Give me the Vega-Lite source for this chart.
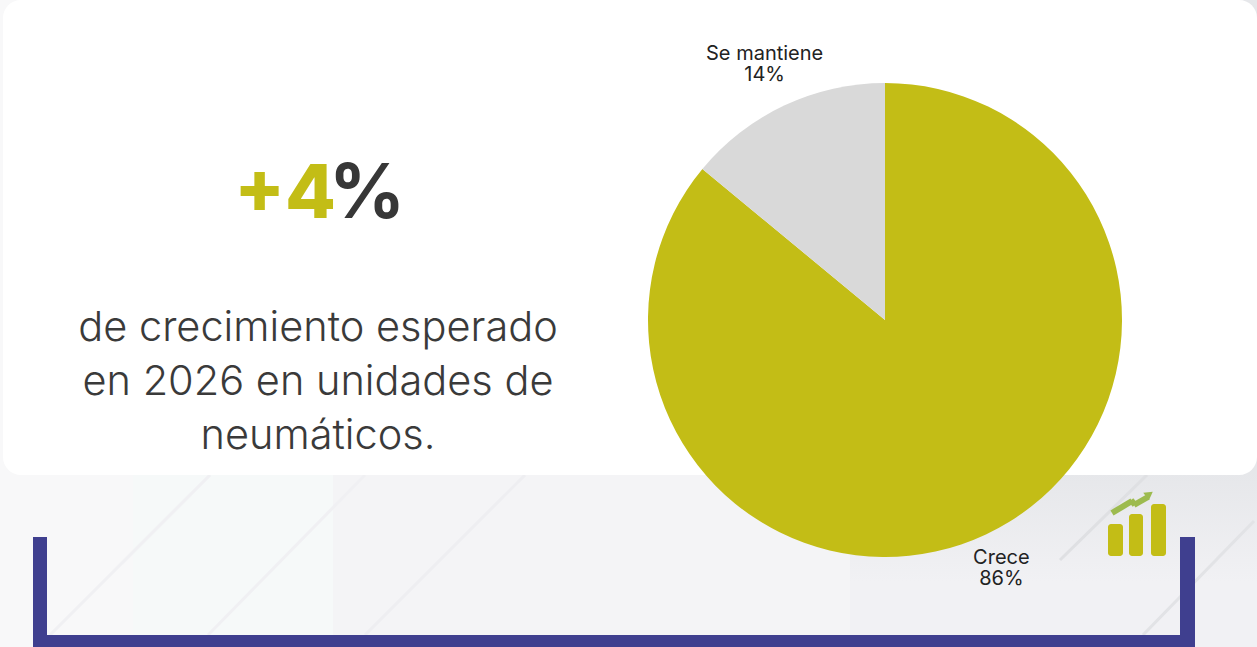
{"$schema":"https://vega.github.io/schema/vega-lite/v6.json","width":1257,"height":647,"autosize":{"type":"fit","contains":"padding"},"padding":0,"background":"#f4f4f6","config":{"view":{"stroke":null},"axis":{"disable":true},"legend":{"disable":true}},"datasets":{"one":[{"k":1}],"shares":[{"grupo":"Crece","valor":86,"etiqueta":"Crece\n86%","orden":1},{"grupo":"Se mantiene","valor":14,"etiqueta":"Se mantiene\n14%","orden":2}]},"data":{"name":"one"},"layer":[
{"mark":{"type":"rect","color":"#f8f8f9"},"encoding":{"x":{"datum":0,"scale":{"domain":[0,1257]}},"x2":{"datum":133},"y":{"datum":0,"scale":{"domain":[647,0]}},"y2":{"datum":647}}},
{"mark":{"type":"rect","color":"#f6f9f9"},"encoding":{"x":{"datum":133,"scale":{"domain":[0,1257]}},"x2":{"datum":333},"y":{"datum":0,"scale":{"domain":[647,0]}},"y2":{"datum":647}}},
{"mark":{"type":"rect","color":{"x1":0,"y1":0.73,"x2":0,"y2":0.9,"gradient":"linear","stops":[{"offset":0,"color":"#e6e7ea"},{"offset":1,"color":"#f1f1f4"}]}},"encoding":{"x":{"datum":850,"scale":{"domain":[0,1257]}},"x2":{"datum":1257},"y":{"datum":0,"scale":{"domain":[647,0]}},"y2":{"datum":647}}},
{"mark":{"type":"rule","color":"#f0f0f3","strokeWidth":3},"encoding":{"x":{"datum":210,"scale":{"domain":[0,1257]}},"x2":{"datum":50},"y":{"datum":475,"scale":{"domain":[647,0]}},"y2":{"datum":635}}},
{"mark":{"type":"rule","color":"#f0f0f3","strokeWidth":3},"encoding":{"x":{"datum":365,"scale":{"domain":[0,1257]}},"x2":{"datum":208},"y":{"datum":475,"scale":{"domain":[647,0]}},"y2":{"datum":635}}},
{"mark":{"type":"rule","color":"#eeeef1","strokeWidth":3},"encoding":{"x":{"datum":525,"scale":{"domain":[0,1257]}},"x2":{"datum":365},"y":{"datum":475,"scale":{"domain":[647,0]}},"y2":{"datum":635}}},
{"mark":{"type":"rule","color":"#dfe0e3","strokeWidth":3},"encoding":{"x":{"datum":1147,"scale":{"domain":[0,1257]}},"x2":{"datum":1060},"y":{"datum":475,"scale":{"domain":[647,0]}},"y2":{"datum":560}}},
{"mark":{"type":"rule","color":"#e2e3e6","strokeWidth":3},"encoding":{"x":{"datum":1254,"scale":{"domain":[0,1257]}},"x2":{"datum":1143},"y":{"datum":521,"scale":{"domain":[647,0]}},"y2":{"datum":635}}},
{"mark":{"type":"rect","color":"#ffffff","cornerRadius":18},"encoding":{"x":{"datum":3,"scale":{"domain":[0,1257]}},"x2":{"datum":1257},"y":{"datum":0,"scale":{"domain":[647,0]}},"y2":{"datum":475}}},
{"mark":{"type":"rect","color":"#3f3f8f"},"encoding":{"x":{"datum":33,"scale":{"domain":[0,1257]}},"x2":{"datum":47},"y":{"datum":537,"scale":{"domain":[647,0]}},"y2":{"datum":647}}},
{"mark":{"type":"rect","color":"#3f3f8f"},"encoding":{"x":{"datum":33,"scale":{"domain":[0,1257]}},"x2":{"datum":1195},"y":{"datum":635,"scale":{"domain":[647,0]}},"y2":{"datum":647}}},
{"mark":{"type":"rect","color":"#3f3f8f"},"encoding":{"x":{"datum":1180,"scale":{"domain":[0,1257]}},"x2":{"datum":1195},"y":{"datum":537,"scale":{"domain":[647,0]}},"y2":{"datum":647}}},
{"mark":{"type":"rect","color":"#c3bd16","cornerRadius":3},"encoding":{"x":{"datum":1108,"scale":{"domain":[0,1257]}},"x2":{"datum":1123},"y":{"datum":524,"scale":{"domain":[647,0]}},"y2":{"datum":556}}},
{"mark":{"type":"rect","color":"#c3bd16","cornerRadius":3},"encoding":{"x":{"datum":1129,"scale":{"domain":[0,1257]}},"x2":{"datum":1143},"y":{"datum":514,"scale":{"domain":[647,0]}},"y2":{"datum":556}}},
{"mark":{"type":"rect","color":"#c3bd16","cornerRadius":3},"encoding":{"x":{"datum":1151,"scale":{"domain":[0,1257]}},"x2":{"datum":1166},"y":{"datum":504,"scale":{"domain":[647,0]}},"y2":{"datum":556}}},
{"mark":{"type":"rule","color":"#9dbb4f","strokeWidth":6},"encoding":{"x":{"datum":1112,"scale":{"domain":[0,1257]}},"x2":{"datum":1132},"y":{"datum":513,"scale":{"domain":[647,0]}},"y2":{"datum":501}}},
{"mark":{"type":"rule","color":"#9dbb4f","strokeWidth":6},"encoding":{"x":{"datum":1131,"scale":{"domain":[0,1257]}},"x2":{"datum":1135},"y":{"datum":500,"scale":{"domain":[647,0]}},"y2":{"datum":505}}},
{"mark":{"type":"rule","color":"#9dbb4f","strokeWidth":6},"encoding":{"x":{"datum":1134,"scale":{"domain":[0,1257]}},"x2":{"datum":1148},"y":{"datum":505,"scale":{"domain":[647,0]}},"y2":{"datum":497}}},
{"mark":{"type":"point","shape":"M-1,-0.7L1,-0.9L0.2,0.9Z","filled":true,"color":"#9dbb4f","opacity":1,"size":90},"encoding":{"x":{"datum":1148,"scale":{"domain":[0,1257]}},"y":{"datum":496,"scale":{"domain":[647,0]}}}},
{"data":{"name":"shares"},"mark":{"type":"arc","outerRadius":237,"innerRadius":0},"encoding":{"x":{"datum":885,"scale":{"domain":[0,1257]}},"y":{"datum":320,"scale":{"domain":[647,0]}},"theta":{"field":"valor","type":"quantitative","stack":true},"order":{"field":"orden","type":"ordinal"},"color":{"field":"grupo","type":"nominal","scale":{"domain":["Crece","Se mantiene"],"range":["#c3bd16","#d9d9d9"]}}}},
{"data":{"name":"shares"},"mark":{"type":"text","radius":278,"dx":-2,"dy":-14,"font":"Inter","fontSize":20,"color":"#222222","lineHeight":21,"align":"center","baseline":"middle","lineBreak":"\n"},"encoding":{"x":{"datum":885,"scale":{"domain":[0,1257]}},"y":{"datum":320,"scale":{"domain":[647,0]}},"theta":{"field":"valor","type":"quantitative","stack":true},"order":{"field":"orden","type":"ordinal"},"detail":{"field":"grupo"},"text":{"field":"etiqueta"}}},
{"data":{"values":[{"t":"+4"}]},"mark":{"type":"text","font":"Inter","fontWeight":800,"fontSize":74,"color":"#c3bd16","align":"right","baseline":"alphabetic"},"encoding":{"x":{"datum":336,"scale":{"domain":[0,1257]}},"y":{"datum":218,"scale":{"domain":[647,0]}},"text":{"field":"t"}}},
{"data":{"values":[{"t":"%"}]},"mark":{"type":"text","font":"Inter","fontWeight":700,"fontSize":75,"color":"#373737","align":"left","baseline":"alphabetic"},"encoding":{"x":{"datum":329,"scale":{"domain":[0,1257]}},"y":{"datum":218,"scale":{"domain":[647,0]}},"text":{"field":"t"}}},
{"data":{"values":[{"t":"de crecimiento esperado\nen 2026 en unidades de\nneumáticos."}]},"mark":{"type":"text","font":"Inter","fontWeight":300,"fontSize":41.5,"color":"#3a3a3a","lineHeight":54,"align":"center","baseline":"middle","lineBreak":"\n"},"encoding":{"x":{"datum":318,"scale":{"domain":[0,1257]}},"y":{"datum":329,"scale":{"domain":[647,0]}},"text":{"field":"t"}}}
]}
